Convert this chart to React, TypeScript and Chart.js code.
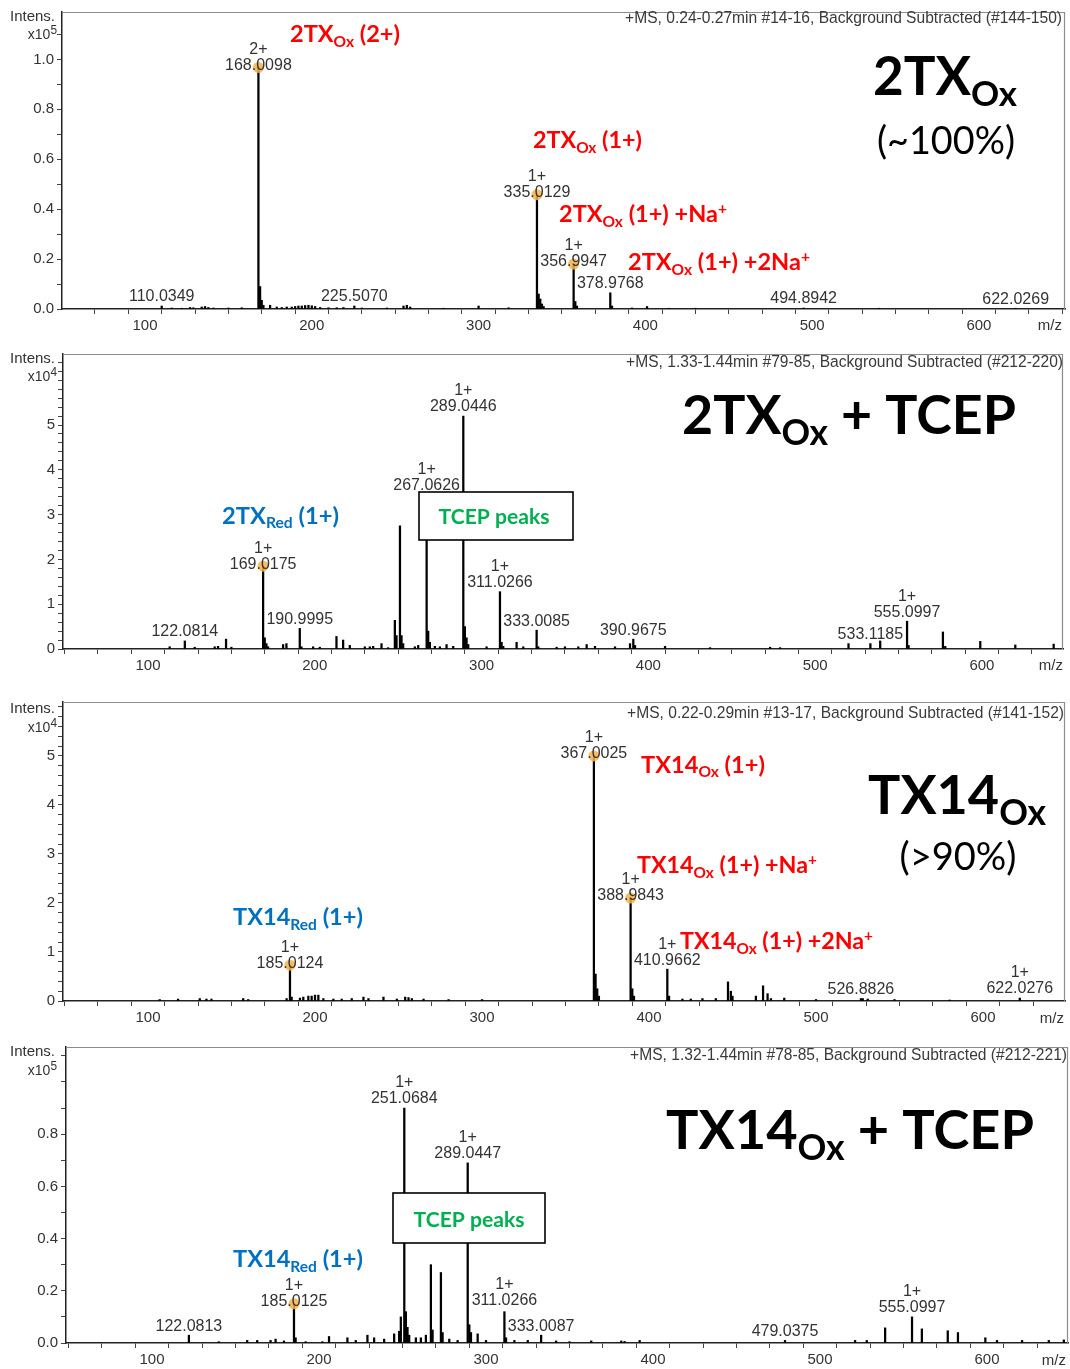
import React, { useEffect, useRef } from 'react';
import { Chart, registerables } from 'chart.js';
Chart.register(...registerables);

// ---------------- data ----------------
const X_TICKS = [60, 80, 100, 120, 140, 160, 180, 200, 220, 240, 260, 280, 300, 320, 340, 360, 380, 400, 420, 440, 460, 480, 500, 520, 540, 560, 580, 600, 620, 640];
const X_LABELS = [100, 200, 300, 400, 500, 600];

// Panel 1: 2TXox (x10^5)
const P1_MZ = [110.0349, 116, 122, 127, 129, 134, 136, 138, 141, 150, 158, 168.0098, 169, 170, 171, 175, 179, 182, 185, 188, 190, 192, 194, 196, 198, 200, 202, 205, 210, 215, 219, 225.507, 230, 245, 255, 257, 259, 279, 300, 318, 335.0129, 336, 337, 338, 339, 356.9947, 358, 359, 378.9768, 380, 392, 401, 414, 430, 494.8942, 540, 622.0269];
const P1_INT = [0.012, 0.004, 0.003, 0.006, 0.005, 0.008, 0.01, 0.006, 0.004, 0.004, 0.005, 0.968, 0.09, 0.035, 0.015, 0.015, 0.008, 0.006, 0.008, 0.008, 0.01, 0.012, 0.012, 0.014, 0.015, 0.013, 0.01, 0.006, 0.005, 0.005, 0.006, 0.012, 0.004, 0.004, 0.012, 0.015, 0.008, 0.003, 0.012, 0.005, 0.458, 0.06, 0.04, 0.02, 0.01, 0.18, 0.03, 0.012, 0.065, 0.012, 0.004, 0.01, 0.003, 0.003, 0.004, 0.003, 0.003];
const P1_Y_TICKS = [0, 0.1, 0.2, 0.3, 0.4, 0.5, 0.6, 0.7, 0.8, 0.9, 1.0, 1.1];
const P1_Y_LABELS = [0, 0.2, 0.4, 0.6, 0.8, 1.0];

// Panel 2: 2TXox + TCEP (x10^4)
const P2_MZ = [113, 122.0814, 128, 140, 142, 146.8, 150, 169.0175, 170, 171, 172, 181, 183, 190.9995, 192, 199, 203, 213, 217, 221, 230, 233, 235, 240, 244, 248, 249, 251.07, 252, 253, 260, 262, 267.0626, 268, 269, 272, 275, 279, 283, 289.0446, 290, 291, 292, 303, 311.0266, 312, 313, 321, 325, 333.0085, 334, 345, 350, 358, 363, 368, 380, 389, 390.9675, 392, 410, 437, 473, 479, 520, 533.1185, 539, 555.0997, 556, 576.6, 578, 599, 620, 643];
const P2_INT = [0.05, 0.18, 0.04, 0.05, 0.06, 0.22, 0.04, 1.85, 0.25, 0.12, 0.05, 0.1, 0.12, 0.46, 0.05, 0.05, 0.04, 0.28, 0.2, 0.08, 0.05, 0.05, 0.06, 0.12, 0.03, 0.64, 0.3, 2.75, 0.3, 0.12, 0.05, 0.08, 3.45, 0.4, 0.15, 0.06, 0.05, 0.1, 0.06, 5.2, 0.5, 0.25, 0.1, 0.05, 1.28, 0.15, 0.06, 0.15, 0.05, 0.42, 0.05, 0.04, 0.05, 0.05, 0.1, 0.06, 0.05, 0.12, 0.22, 0.08, 0.06, 0.03, 0.04, 0.03, 0.12, 0.12, 0.18, 0.62, 0.08, 0.38, 0.06, 0.17, 0.09, 0.11];
const P2_Y_TICKS = [0, 0.2, 0.4, 0.6, 0.8, 1, 1.2, 1.4, 1.6, 1.8, 2, 2.2, 2.4, 2.6, 2.8, 3, 3.2, 3.4, 3.6, 3.8, 4, 4.2, 4.4, 4.6, 4.8, 5, 5.2, 5.4, 5.6, 5.8, 6, 6.2, 6.4];
const P2_Y_LABELS = [0, 1, 2, 3, 4, 5];

// Panel 3: TX14ox (x10^4)
const P3_MZ = [107, 118, 131, 135, 138, 157, 160, 183, 185.0124, 186, 191, 193, 196, 198, 200, 202, 205, 211, 216, 222, 229, 232, 241, 249, 254, 256, 258, 265, 280, 300, 367.0025, 368, 369, 370, 388.9843, 390, 391, 410.9662, 412, 420, 425, 432, 440, 447.3, 449, 450, 464, 468.3, 471, 473, 481, 500, 526.8826, 528, 531, 547, 580, 622.0276];
const P3_INT = [0.03, 0.04, 0.05, 0.04, 0.04, 0.05, 0.03, 0.05, 0.73, 0.08, 0.06, 0.08, 0.1, 0.1, 0.12, 0.12, 0.05, 0.04, 0.04, 0.05, 0.08, 0.05, 0.08, 0.04, 0.08, 0.07, 0.05, 0.04, 0.03, 0.03, 5.0, 0.55, 0.25, 0.1, 2.1, 0.25, 0.1, 0.65, 0.1, 0.04, 0.04, 0.05, 0.05, 0.39, 0.2, 0.1, 0.1, 0.31, 0.15, 0.05, 0.06, 0.03, 0.05, 0.05, 0.04, 0.03, 0.02, 0.06];
const P3_Y_TICKS = [0, 0.2, 0.4, 0.6, 0.8, 1, 1.2, 1.4, 1.6, 1.8, 2, 2.2, 2.4, 2.6, 2.8, 3, 3.2, 3.4, 3.6, 3.8, 4, 4.2, 4.4, 4.6, 4.8, 5, 5.2, 5.4, 5.6, 5.8, 6];
const P3_Y_LABELS = [0, 1, 2, 3, 4, 5];

// Panel 4: TX14ox + TCEP (x10^5)
const P4_MZ = [122.0813, 140, 157, 163, 171, 174, 179, 185.0125, 186, 192, 202, 206, 217, 222, 229, 233, 239, 245, 248, 249, 251.0684, 252, 253, 254, 258, 261, 264, 267, 268, 273, 274, 278, 283, 289.0447, 290, 291, 295, 300, 311.0266, 312, 317, 325, 333.0087, 342, 350, 363, 381, 383, 392, 479.0375, 521, 528, 539, 555.0997, 561, 576.5, 582.6, 599, 606, 621, 637, 646];
const P4_INT = [0.03, 0.005, 0.01, 0.01, 0.01, 0.015, 0.008, 0.15, 0.02, 0.005, 0.005, 0.025, 0.02, 0.01, 0.03, 0.02, 0.015, 0.035, 0.045, 0.1, 0.9, 0.12, 0.06, 0.03, 0.02, 0.02, 0.03, 0.3, 0.05, 0.27, 0.04, 0.015, 0.01, 0.69, 0.07, 0.04, 0.035, 0.01, 0.12, 0.02, 0.01, 0.01, 0.03, 0.008, 0.005, 0.008, 0.008, 0.006, 0.01, 0.01, 0.01, 0.01, 0.058, 0.1, 0.054, 0.047, 0.04, 0.02, 0.01, 0.01, 0.01, 0.012];
const P4_Y_TICKS = [0, 0.1, 0.2, 0.3, 0.4, 0.5, 0.6, 0.7, 0.8, 0.9, 1.0, 1.1];
const P4_Y_LABELS = [0, 0.2, 0.4, 0.6, 0.8];

// peak annotations
type PeakLabel = { mz: number; text: string; charge?: string; dot?: boolean; dy?: number };
const P1_LABELS: PeakLabel[] = [
  { mz: 168.0098, text: '168.0098', charge: '2+', dot: true },
  { mz: 335.0129, text: '335.0129', charge: '1+', dot: true },
  { mz: 356.9947, text: '356.9947', charge: '1+', dot: true },
  { mz: 378.9768, text: '378.9768' },
  { mz: 110.0349, text: '110.0349' },
  { mz: 225.507, text: '225.5070' },
  { mz: 494.8942, text: '494.8942' },
  { mz: 622.0269, text: '622.0269' },
];
const P2_LABELS: PeakLabel[] = [
  { mz: 289.0446, text: '289.0446', charge: '1+' },
  { mz: 267.0626, text: '267.0626', charge: '1+' },
  { mz: 169.0175, text: '169.0175', charge: '1+', dot: true },
  { mz: 190.9995, text: '190.9995' },
  { mz: 122.0814, text: '122.0814' },
  { mz: 311.0266, text: '311.0266', charge: '1+' },
  { mz: 333.0085, text: '333.0085' },
  { mz: 390.9675, text: '390.9675' },
  { mz: 533.1185, text: '533.1185' },
  { mz: 555.0997, text: '555.0997', charge: '1+' },
];
const P3_LABELS: PeakLabel[] = [
  { mz: 367.0025, text: '367.0025', charge: '1+', dot: true },
  { mz: 388.9843, text: '388.9843', charge: '1+', dot: true },
  { mz: 410.9662, text: '410.9662', charge: '1+' },
  { mz: 185.0124, text: '185.0124', charge: '1+', dot: true },
  { mz: 526.8826, text: '526.8826' },
  { mz: 622.0276, text: '622.0276', charge: '1+' },
];
const P4_LABELS: PeakLabel[] = [
  { mz: 251.0684, text: '251.0684', charge: '1+' },
  { mz: 289.0447, text: '289.0447', charge: '1+' },
  { mz: 185.0125, text: '185.0125', charge: '1+', dot: true },
  { mz: 311.0266, text: '311.0266', charge: '1+', dy: -11 },
  { mz: 333.0087, text: '333.0087' },
  { mz: 122.0813, text: '122.0813' },
  { mz: 479.0375, text: '479.0375' },
  { mz: 555.0997, text: '555.0997', charge: '1+' },
];

// ---------------- styling helpers ----------------
const SANS = '"Liberation Sans", Arial, sans-serif';
const CAL = 'Lato, "Open Sans", sans-serif';
const RED = '#ff0000';
const BLUE = '#0070c0';
const GREEN = '#00b050';

type Seg = { t: string; k?: 'sub' | 'sup' };
const S = (t: string): Seg => ({ t });
const SUB = (t: string): Seg => ({ t, k: 'sub' });
const SUP = (t: string): Seg => ({ t, k: 'sup' });
type Rich = { x: number; y: number; segs: Seg[]; size: number; color: string; bold?: boolean; align?: 'left' | 'center' | 'right'; width?: number; family?: string; small?: number };

const red = (x: number, y: number, segs: Seg[], width: number): Rich => ({ x, y, segs, size: 22, color: RED, bold: true, width });
const blue = (x: number, y: number, segs: Seg[], width: number): Rich => ({ x, y, segs, size: 22, color: BLUE, bold: true, width });

const P1_TEXTS: Rich[] = [
  red(290, 34, [S('2TX'), SUB('Ox'), S(' (2+)')], 110),
  red(533, 140, [S('2TX'), SUB('Ox'), S(' (1+)')], 109),
  red(559, 214, [S('2TX'), SUB('Ox'), S(' (1+) +Na'), SUP('+')], 168),
  red(628, 262, [S('2TX'), SUB('Ox'), S(' (1+) +2Na'), SUP('+')], 182),
  { x: 873, y: 76, segs: [S('2TX'), SUB('Ox')], size: 58, color: '#000', bold: true, width: 144 },
  { x: 946, y: 140, segs: [S('(~100%)')], size: 37, color: '#000', align: 'center', width: 138 },
];
const P2_TEXTS: Rich[] = [
  { x: 682, y: 415, segs: [S('2TX'), SUB('Ox'), S(' + TCEP')], size: 60, color: '#000', bold: true, width: 334 },
  blue(222, 515, [S('2TX'), SUB('Red'), S(' (1+)')], 117),
  { x: 494, y: 516, segs: [S('TCEP peaks')], size: 22, color: GREEN, bold: true, align: 'center', width: 111 },
];
const P3_TEXTS: Rich[] = [
  red(641, 764, [S('TX14'), SUB('Ox'), S(' (1+)')], 124),
  red(637, 865, [S('TX14'), SUB('Ox'), S(' (1+) +Na'), SUP('+')], 180),
  red(680, 941, [S('TX14'), SUB('Ox'), S(' (1+) +2Na'), SUP('+')], 193),
  { x: 868, y: 795, segs: [S('TX14'), SUB('Ox')], size: 58, color: '#000', bold: true, width: 178 },
  { x: 958, y: 856, segs: [S('(>90%)')], size: 37, color: '#000', align: 'center', width: 117 },
  blue(233, 917, [S('TX14'), SUB('Red'), S(' (1+)')], 130),
];
const P4_TEXTS: Rich[] = [
  { x: 666, y: 1130, segs: [S('TX14'), SUB('Ox'), S(' + TCEP')], size: 60, color: '#000', bold: true, width: 368 },
  { x: 469, y: 1219, segs: [S('TCEP peaks')], size: 22, color: GREEN, bold: true, align: 'center', width: 111 },
  blue(233, 1259, [S('TX14'), SUB('Red'), S(' (1+)')], 130),
];

type Box = { x: number; y: number; w: number; h: number };

type PanelSpec = {
  top: number; height: number;
  area: { left: number; right: number; top: number; bottom: number };
  xMin: number; xMax: number; yMax: number;
  yTicks: number[]; yLabels: number[]; decimals: number; exp: string;
  header: string; headerY: number; headerRight: number;
  intensY: number; expY: number; mzRight: number; mzY: number;
  mz: number[]; int: number[];
  labels: PeakLabel[]; texts: Rich[]; boxes: Box[];
};

const PANELS: PanelSpec[] = [
  {
    top: 0, height: 342, area: { left: 62, right: 1065, top: 8, bottom: 309 },
    xMin: 50.24, xMax: 651.6, yMax: 1.19, yTicks: P1_Y_TICKS, yLabels: P1_Y_LABELS, decimals: 1, exp: '5',
    header: '+MS, 0.24-0.27min #14-16, Background Subtracted (#144-150)', headerY: 17, headerRight: 1062,
    intensY: 16, expY: 34, mzRight: 1062, mzY: 325,
    mz: P1_MZ, int: P1_INT, labels: P1_LABELS, texts: P1_TEXTS, boxes: [],
  },
  {
    top: 342, height: 348, area: { left: 63, right: 1063, top: 8, bottom: 307 },
    xMin: 49.04, xMax: 648.6, yMax: 6.586, yTicks: P2_Y_TICKS, yLabels: P2_Y_LABELS, decimals: 0, exp: '4',
    header: '+MS, 1.33-1.44min #79-85, Background Subtracted (#212-220)', headerY: 361, headerRight: 1063,
    intensY: 358, expY: 376, mzRight: 1063, mzY: 665,
    mz: P2_MZ, int: P2_INT, labels: P2_LABELS, texts: P2_TEXTS, boxes: [{ x: 419, y: 492, w: 154, h: 48 }],
  },
  {
    top: 690, height: 345, area: { left: 63, right: 1065, top: 12, bottom: 311 },
    xMin: 49.1, xMax: 649.1, yMax: 6.1, yTicks: P3_Y_TICKS, yLabels: P3_Y_LABELS, decimals: 0, exp: '4',
    header: '+MS, 0.22-0.29min #13-17, Background Subtracted (#141-152)', headerY: 712, headerRight: 1064,
    intensY: 708, expY: 727, mzRight: 1064, mzY: 1018,
    mz: P3_MZ, int: P3_INT, labels: P3_LABELS, texts: P3_TEXTS, boxes: [],
  },
  {
    top: 1035, height: 334, area: { left: 66, right: 1068, top: 9, bottom: 308 },
    xMin: 48.5, xMax: 648.5, yMax: 1.134, yTicks: P4_Y_TICKS, yLabels: P4_Y_LABELS, decimals: 1, exp: '5',
    header: '+MS, 1.32-1.44min #78-85, Background Subtracted (#212-221)', headerY: 1054, headerRight: 1067,
    intensY: 1051, expY: 1070, mzRight: 1066, mzY: 1360,
    mz: P4_MZ, int: P4_INT, labels: P4_LABELS, texts: P4_TEXTS, boxes: [{ x: 393, y: 1193, w: 152, h: 50 }],
  },
];

function drawRich(ctx: CanvasRenderingContext2D, r: Rich, offY: number) {
  const fam = r.family || CAL;
  const sm = r.small ?? 0.66;
  const fontFor = (k: Seg['k'], s: number) => `${r.bold ? 'bold ' : ''}${k ? s * sm : s}px ${fam}`;
  const measure = (s: number) => r.segs.reduce((w, g) => { ctx.font = fontFor(g.k, s); return w + ctx.measureText(g.t).width; }, 0);
  let s = r.size;
  if (r.width) s = r.size * r.width / measure(r.size);
  const total = measure(s);
  let x = r.align === 'center' ? r.x - total / 2 : r.align === 'right' ? r.x - total : r.x;
  const baseline = r.y - offY + s * 0.36;
  ctx.fillStyle = r.color;
  ctx.textAlign = 'left';
  ctx.textBaseline = 'alphabetic';
  for (const g of r.segs) {
    ctx.font = fontFor(g.k, s);
    const dy = g.k === 'sub' ? s * 0.2 : g.k === 'sup' ? -s * 0.36 : 0;
    ctx.fillText(g.t, x, baseline + dy);
    x += ctx.measureText(g.t).width;
  }
}

function decoPlugin(spec: PanelSpec) {
  return {
    id: 'deco',
    beforeDatasetsDraw(chart: any) {
      const { ctx, chartArea: a } = chart;
      ctx.save();
      ctx.strokeStyle = '#8c8c8c';
      ctx.lineWidth = 1.2;
      ctx.beginPath();
      ctx.moveTo(a.left, a.top + 0.5);
      ctx.lineTo(a.right - 0.5, a.top + 0.5);
      ctx.lineTo(a.right - 0.5, a.bottom);
      ctx.stroke();
      ctx.restore();
    },
    afterDatasetsDraw(chart: any) {
      const ctx: CanvasRenderingContext2D = chart.ctx;
      const xs = chart.scales.x, ys = chart.scales.y;
      const off = spec.top;
      ctx.save();
      // header
      drawRich(ctx, { x: spec.headerRight, y: spec.headerY, segs: [S(spec.header)], size: 15, color: '#3a3a3a', align: 'right', width: 437, family: SANS }, off);
      // Intens. / exponent / m/z
      drawRich(ctx, { x: 55, y: spec.intensY, segs: [S('Intens.')], size: 15, color: '#333', align: 'right', width: 45, family: SANS }, off);
      drawRich(ctx, { x: 57, y: spec.expY, segs: [S('x10'), SUP(spec.exp)], size: 14, color: '#333', align: 'right', family: SANS, small: 0.85 }, off);
      drawRich(ctx, { x: spec.mzRight, y: spec.mzY, segs: [S('m/z')], size: 15, color: '#333', align: 'right', family: SANS }, off);
      // boxes
      for (const b of spec.boxes) {
        ctx.fillStyle = '#fff';
        ctx.fillRect(b.x, b.y - off, b.w, b.h);
        ctx.strokeStyle = '#000';
        ctx.lineWidth = 1.6;
        ctx.strokeRect(b.x, b.y - off, b.w, b.h);
      }
      // dots
      for (const l of spec.labels) {
        if (!l.dot) continue;
        const i = spec.mz.findIndex((m) => Math.abs(m - l.mz) < 0.01);
        const px = xs.getPixelForValue(l.mz), py = ys.getPixelForValue(spec.int[i]);
        ctx.beginPath();
        ctx.arc(px, py, 5.5, 0, Math.PI * 2);
        ctx.fillStyle = 'rgba(244,178,72,0.85)';
        ctx.fill();
      }
      // peak labels
      ctx.font = `16px ${SANS}`;
      ctx.fillStyle = '#333';
      ctx.textAlign = 'center';
      ctx.textBaseline = 'middle';
      for (const l of spec.labels) {
        const i = spec.mz.findIndex((m) => Math.abs(m - l.mz) < 0.01);
        const px = xs.getPixelForValue(l.mz), py = ys.getPixelForValue(spec.int[i]);
        const ly = py + (l.dy ?? (l.dot ? -2 : -9));
        ctx.fillText(l.text, px, ly);
        if (l.charge) ctx.fillText(l.charge, px, ly - 16);
      }
      // rich annotations
      for (const t of spec.texts) drawRich(ctx, t, off);
      ctx.restore();
    },
  };
}

function Panel({ spec }: { spec: PanelSpec }) {
  const ref = useRef<HTMLCanvasElement>(null);
  useEffect(() => {
    const near = (arr: number[], v: number) => arr.some((a) => Math.abs(a - v) < 1e-6);
    const chart = new Chart(ref.current as HTMLCanvasElement, {
      type: 'bar',
      data: {
        datasets: [{
          data: spec.mz.map((m, i) => ({ x: m, y: spec.int[i] })) as any,
          backgroundColor: '#000',
          borderWidth: 0,
          barThickness: 1.6,
          grouped: false,
        } as any],
      },
      options: {
        responsive: false,
        animation: false,
        devicePixelRatio: 1,
        layout: { autoPadding: false, padding: { left: 0, top: spec.area.top, right: 1070 - spec.area.right, bottom: 0 } },
        plugins: { legend: { display: false }, tooltip: { enabled: false } },
        scales: {
          x: {
            type: 'linear', min: spec.xMin, max: spec.xMax, offset: false,
            afterBuildTicks: (ax: any) => { ax.ticks = X_TICKS.filter((v) => v >= spec.xMin && v <= spec.xMax).map((v) => ({ value: v })); },
            afterFit: (ax: any) => { ax.height = spec.height - spec.area.bottom; },
            grid: { drawOnChartArea: false, drawTicks: true, tickLength: 5, color: '#444', lineWidth: 1 },
            border: { display: true, color: '#222', width: 1.5 },
            ticks: { autoSkip: false, maxRotation: 0, padding: 3, color: '#333', font: { family: SANS, size: 15 }, callback: (v: any) => (near(X_LABELS, Number(v)) ? String(v) : '') },
          } as any,
          y: {
            type: 'linear', min: 0, max: spec.yMax,
            afterBuildTicks: (ax: any) => { ax.ticks = spec.yTicks.map((v) => ({ value: v })); },
            afterFit: (ax: any) => { ax.width = spec.area.left; },
            grid: { drawOnChartArea: false, drawTicks: true, tickLength: 5, color: '#444', lineWidth: 1 },
            border: { display: true, color: '#222', width: 1.5 },
            ticks: { autoSkip: false, padding: 3, color: '#333', font: { family: SANS, size: 15 }, callback: (v: any) => (near(spec.yLabels, Number(v)) ? Number(v).toFixed(spec.decimals) : '') },
          } as any,
        },
      },
      plugins: [decoPlugin(spec) as any],
    });
    return () => chart.destroy();
  }, [spec]);
  return (
    <canvas
      ref={ref}
      width={1070}
      height={spec.height}
      style={{ position: 'absolute', left: 0, top: spec.top, width: 1070, height: spec.height, display: 'block' }}
    />
  );
}

export default function App() {
  return (
    <div style={{ position: 'absolute', left: 0, top: 0, width: 1070, height: 1369, background: '#fff', overflow: 'hidden' }}>
      {PANELS.map((p, i) => <Panel key={i} spec={p} />)}
    </div>
  );
}
